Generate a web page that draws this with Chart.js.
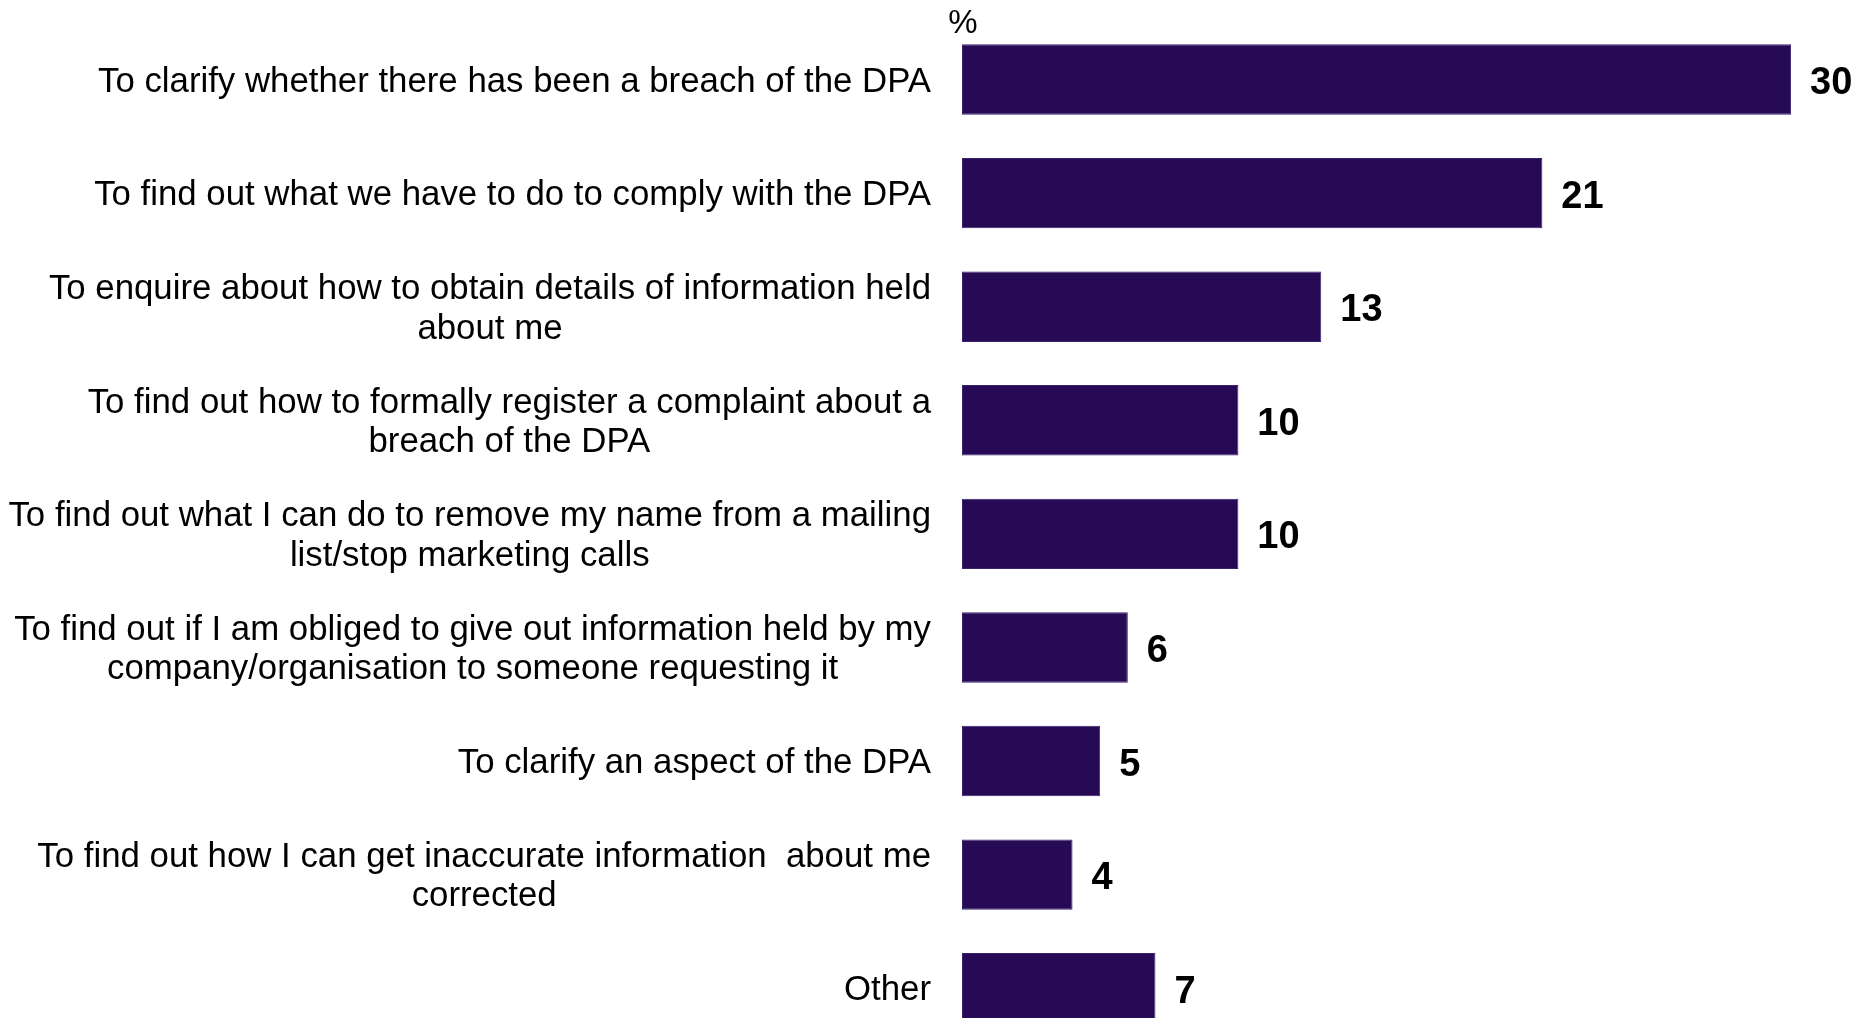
<!DOCTYPE html>
<html>
<head>
<meta charset="utf-8">
<script src="https://cdn.jsdelivr.net/npm/chart.js@4"></script>
<style>
  html, body { margin: 0; padding: 0; background: #ffffff; overflow: hidden; }
  canvas { display: block; }
</style>
</head>
<body>
<canvas id="reasons" width="1874" height="1045"></canvas>
<script>
// Reasons for contacting the office (% of respondents)
const categories = [
  ['To clarify whether there has been a breach of the DPA'],
  ['To find out what we have to do to comply with the DPA'],
  ['To enquire about how to obtain details of information held', 'about me'],
  ['To find out how to formally register a complaint about a', 'breach of the DPA'],
  ['To find out what I can do to remove my name from a mailing', 'list/stop marketing calls'],
  ['To find out if I am obliged to give out information held by my', 'company/organisation to someone requesting it'],
  ['To clarify an aspect of the DPA'],
  ['To find out how I can get inaccurate information  about me', 'corrected'],
  ['Other']
];
const values = [30, 21, 13, 10, 10, 6, 5, 4, 7];
const unitLabel = '%';

const FONT = '"Liberation Sans", Arial, Helvetica, sans-serif';
const BAR_COLOR = '#260a56';

// Draws the wrapped category text, the value beside each bar and the unit sign
const annotate = {
  id: 'annotate',
  afterDatasetsDraw(chart) {
    const ctx = chart.ctx;
    const xScale = chart.scales.x;
    const yScale = chart.scales.y;
    const zeroX = xScale.getPixelForValue(0);
    ctx.save();
    ctx.fillStyle = '#000000';

    // category labels: block right-aligned, lines centred within the block
    ctx.font = '34.8px ' + FONT;
    ctx.textBaseline = 'middle';
    ctx.textAlign = 'center';
    const blockRight = zeroX - 31;
    const lineHeight = 39.5;
    categories.forEach((lines, i) => {
      const y = yScale.getPixelForTick(i) + 2.5;
      const w = Math.max(...lines.map(l => ctx.measureText(l).width));
      const cx = blockRight - w / 2;
      lines.forEach((line, k) => {
        ctx.fillText(line, cx, y + (k - (lines.length - 1) / 2) * lineHeight);
      });
    });

    // value labels at the end of each bar
    ctx.font = 'bold 38px ' + FONT;
    ctx.textAlign = 'left';
    chart.getDatasetMeta(0).data.forEach((bar, i) => {
      ctx.fillText(String(values[i]), bar.x + 19, bar.y + 4);
    });

    // unit sign above the axis origin
    ctx.font = '33px ' + FONT;
    ctx.textAlign = 'center';
    ctx.textBaseline = 'alphabetic';
    ctx.fillText(unitLabel, zeroX + 1, 33);
    ctx.restore();
  }
};

new Chart(document.getElementById('reasons'), {
  type: 'bar',
  data: {
    labels: categories,
    datasets: [{
      data: values,
      backgroundColor: BAR_COLOR,
      borderColor: '#3a2270',
      borderWidth: 1,
      borderSkipped: false,
      barPercentage: 0.62,
      categoryPercentage: 1.0
    }]
  },
  options: {
    indexAxis: 'y',
    responsive: false,
    animation: false,
    devicePixelRatio: 1,
    layout: { padding: { top: 22.75, right: 0, bottom: 0, left: 0 } },
    plugins: {
      legend: { display: false },
      tooltip: { enabled: false },
      title: { display: false }
    },
    scales: {
      x: {
        display: false,
        min: 0,
        max: 33
      },
      y: {
        type: 'category',
        grid: { display: false },
        border: { display: false },
        ticks: { display: false },
        afterFit(scale) { scale.width = 962; }
      }
    }
  },
  plugins: [annotate]
});
</script>
</body>
</html>
